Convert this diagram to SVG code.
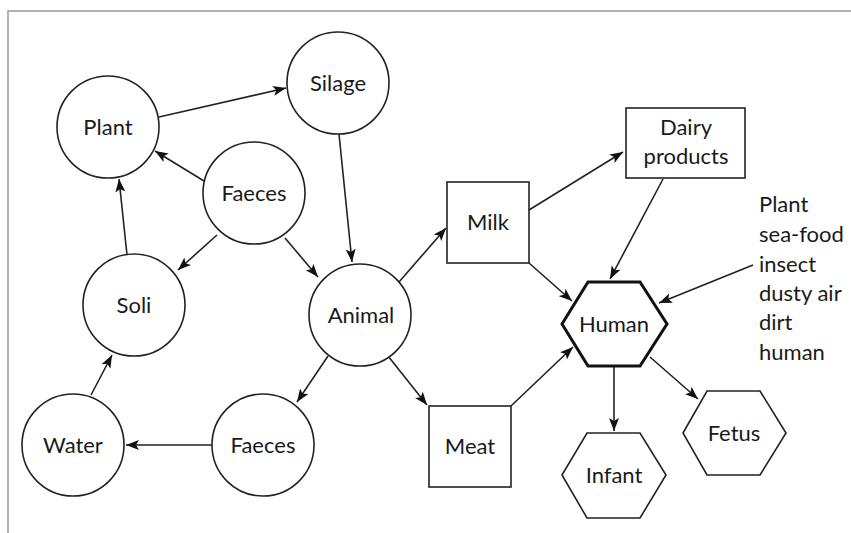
<svg xmlns="http://www.w3.org/2000/svg" width="851" height="533" viewBox="0 0 851 533">
<style>
.n{fill:#fff;stroke:#222;stroke-width:1.6}
.h{fill:#fff;stroke:#111;stroke-width:3}
.t{font-family:Lato,"Open Sans",sans-serif;font-size:22px;fill:#1a1a1a;text-anchor:middle}
.l{font-family:Lato,"Open Sans",sans-serif;font-size:22px;fill:#1a1a1a}
.c line{stroke:#222;stroke-width:1.6;marker-end:url(#a)}
</style>
<defs>
<marker id="a" markerUnits="userSpaceOnUse" markerWidth="14" markerHeight="12" viewBox="0 0 14 12" refX="13" refY="6" orient="auto">
<path d="M0,1 L13,6 L0,11 L3,6 Z" fill="#111"/>
</marker>
</defs>
<rect width="851" height="533" fill="#fff"/>
<path d="M8,533 V11 H851" fill="none" stroke="#999" stroke-width="1.5"/>
<g class="c">
<line x1="159" y1="117" x2="286" y2="88"/>
<line x1="204" y1="181" x2="155" y2="151"/>
<line x1="127" y1="255" x2="119" y2="179"/>
<line x1="217" y1="235" x2="178" y2="270"/>
<line x1="285" y1="238" x2="318" y2="277"/>
<line x1="339" y1="134" x2="352" y2="262"/>
<line x1="399" y1="282" x2="446" y2="228"/>
<line x1="529" y1="210" x2="623" y2="152"/>
<line x1="663" y1="179" x2="610" y2="279"/>
<line x1="529" y1="263" x2="572" y2="301"/>
<line x1="511" y1="406" x2="573" y2="347"/>
<line x1="388" y1="356" x2="427" y2="405"/>
<line x1="328" y1="356" x2="297" y2="402"/>
<line x1="212" y1="445" x2="126" y2="445"/>
<line x1="91" y1="395" x2="112" y2="355"/>
<line x1="753" y1="265" x2="659" y2="303"/>
<line x1="614" y1="366" x2="614" y2="431"/>
<line x1="650" y1="357" x2="698" y2="399"/>
</g>
<g id="plant"><circle class="n" cx="108" cy="127" r="51"/><text class="t" x="108" y="135">Plant</text></g>
<g id="silage"><circle class="n" cx="338" cy="83" r="51"/><text class="t" x="338" y="91">Silage</text></g>
<g id="faeces1"><circle class="n" cx="254" cy="193" r="51"/><text class="t" x="254" y="201">Faeces</text></g>
<g id="soli"><circle class="n" cx="134" cy="305" r="51"/><text class="t" x="134" y="313">Soli</text></g>
<g id="animal"><circle class="n" cx="360" cy="315" r="51"/><text class="t" x="361" y="323">Animal</text></g>
<g id="water"><circle class="n" cx="73" cy="445" r="51"/><text class="t" x="73" y="453">Water</text></g>
<g id="faeces2"><circle class="n" cx="263" cy="445" r="51"/><text class="t" x="263" y="453">Faeces</text></g>
<g id="milk"><rect class="n" x="447" y="182" width="82" height="81"/><text class="t" x="488" y="230">Milk</text></g>
<g id="meat"><rect class="n" x="429" y="406" width="82" height="81"/><text class="t" x="470" y="454">Meat</text></g>
<g id="dairy"><rect class="n" x="626" y="108" width="119" height="70"/><text class="t" x="686" y="135">Dairy</text><text class="t" x="686" y="164">products</text></g>
<g id="human"><polygon class="h" points="562,324 588,282 640,282 667,324 640,366 588,366"/><text class="t" x="614" y="332">Human</text></g>
<g id="fetus"><polygon class="n" points="683,433 707,391 760,391 786,433 760,475 707,475"/><text class="t" x="734" y="441">Fetus</text></g>
<g id="infant"><polygon class="n" points="562,475 587,433 640,433 666,475 640,518 587,518"/><text class="t" x="614" y="483">Infant</text></g>
<g id="sources"><text class="l" x="759" y="212">Plant</text><text class="l" x="759" y="242">sea-food</text><text class="l" x="759" y="272">insect</text><text class="l" x="759" y="301">dusty air</text><text class="l" x="759" y="330">dirt</text><text class="l" x="759" y="360">human</text></g>
</svg>
